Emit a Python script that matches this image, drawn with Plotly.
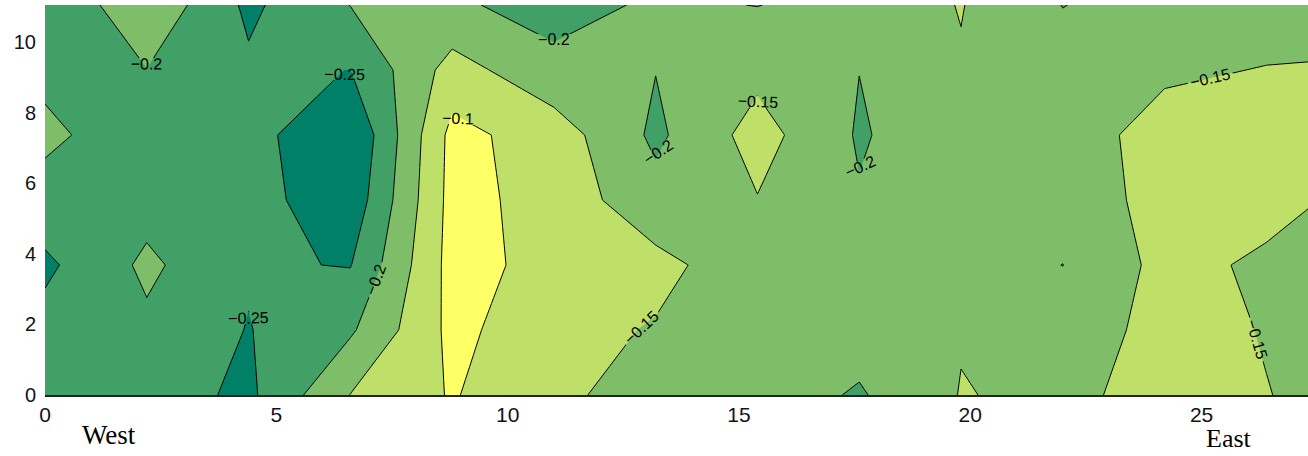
import plotly.graph_objects as go

# grid coordinates
x_vals = [0.0, 2.2, 4.4, 6.6, 8.8, 11.0, 13.2, 15.4, 17.6, 19.8, 22.0, 24.2, 26.4, 28.6]
y_vals = [0.0, 1.842, 3.683, 5.525, 7.367, 9.208, 11.05]

# z values, one list per y row (bottom to top)
z_row0 = [-0.220, -0.227, -0.260, -0.149, -0.096, -0.145, -0.160, -0.175, -0.205, -0.148, -0.160, -0.135, -0.149, -0.165]
z_row1 = [-0.232, -0.210, -0.252, -0.207, -0.087, -0.132, -0.154, -0.175, -0.180, -0.153, -0.175, -0.135, -0.152, -0.165]
z_row2 = [-0.260, -0.190, -0.245, -0.252, -0.082, -0.116, -0.135, -0.182, -0.175, -0.175, -0.2005, -0.135, -0.158, -0.165]
z_row3 = [-0.218, -0.219, -0.230, -0.284, -0.083, -0.119, -0.184, -0.152, -0.1965, -0.175, -0.175, -0.135, -0.135, -0.164]
z_row4 = [-0.190, -0.228, -0.230, -0.300, -0.085, -0.124, -0.210, -0.130, -0.205, -0.165, -0.175, -0.130, -0.130, -0.130]
z_row5 = [-0.211, -0.201, -0.242, -0.2505, -0.130, -0.185, -0.199, -0.163, -0.1995, -0.154, -0.180, -0.158, -0.148, -0.145]
z_row6 = [-0.247, -0.160, -0.260, -0.199, -0.192, -0.220, -0.192, -0.201, -0.180, -0.148, -0.201, -0.180, -0.175, -0.170]
z_grid = [z_row0, z_row1, z_row2, z_row3, z_row4, z_row5, z_row6]

levels_start, levels_end, levels_step = -0.25, -0.10, 0.05
band_colors = ["#008066", "#40a066", "#7fbe68", "#bee068", "#ffff66"]

x_ticks = [0, 5, 10, 15, 20, 25]
y_ticks = [0, 2, 4, 6, 8, 10]

c = band_colors
colorscale = [[0.0, c[0]], [0.19, c[0]], [0.19, c[1]], [0.44, c[1]],
              [0.44, c[2]], [0.69, c[2]], [0.69, c[3]], [0.94, c[3]],
              [0.94, c[4]], [1.0, c[4]]]

fig = go.Figure(go.Contour(
    x=x_vals, y=y_vals, z=z_grid,
    colorscale=colorscale,
    showscale=False,
    contours=dict(start=levels_start, end=levels_end, size=levels_step,
                  coloring="fill", showlabels=True,
                  labelfont=dict(family="Liberation Sans", size=16, color="black"),
                  labelformat=".2~f"),
    line=dict(color="black", width=1, smoothing=0),
    hoverinfo="skip",
))

pw, ph = 1308 - 45, 456 - 5 - 61


def px_to_paper(px, py):
    return (px - 45) / pw, (395 - py) / ph


wx, wy = px_to_paper(109, 435)
ex, ey = px_to_paper(1229, 438)

fig.update_layout(
    width=1308, height=456,
    margin=dict(l=45, r=0, t=5, b=61, autoexpand=False),
    paper_bgcolor="white", plot_bgcolor="white",
    showlegend=False,
    xaxis=dict(range=[0, 27.3], tickvals=x_ticks, showgrid=False, zeroline=False,
               showline=True, linecolor="#222222", linewidth=1.5, ticks="",
               automargin=False,
               tickfont=dict(family="Liberation Sans", size=21, color="#111122")),
    yaxis=dict(range=[0, 11.05], tickvals=y_ticks, showgrid=False, zeroline=False,
               showline=False, ticks="", automargin=False, ticklabelstandoff=8,
               tickfont=dict(family="Liberation Sans", size=20, color="#111122")),
    annotations=[
        dict(text="West", x=wx, y=wy, xref="paper", yref="paper", showarrow=False,
             xanchor="center", yanchor="middle",
             font=dict(family="Liberation Serif", size=27, color="black")),
        dict(text="East", x=ex, y=ey, xref="paper", yref="paper", showarrow=False,
             xanchor="center", yanchor="middle",
             font=dict(family="Liberation Serif", size=26, color="black")),
    ],
)

fig.write_html("out.html", config={"displayModeBar": False},
               post_script="document.body.style.margin='0';")
